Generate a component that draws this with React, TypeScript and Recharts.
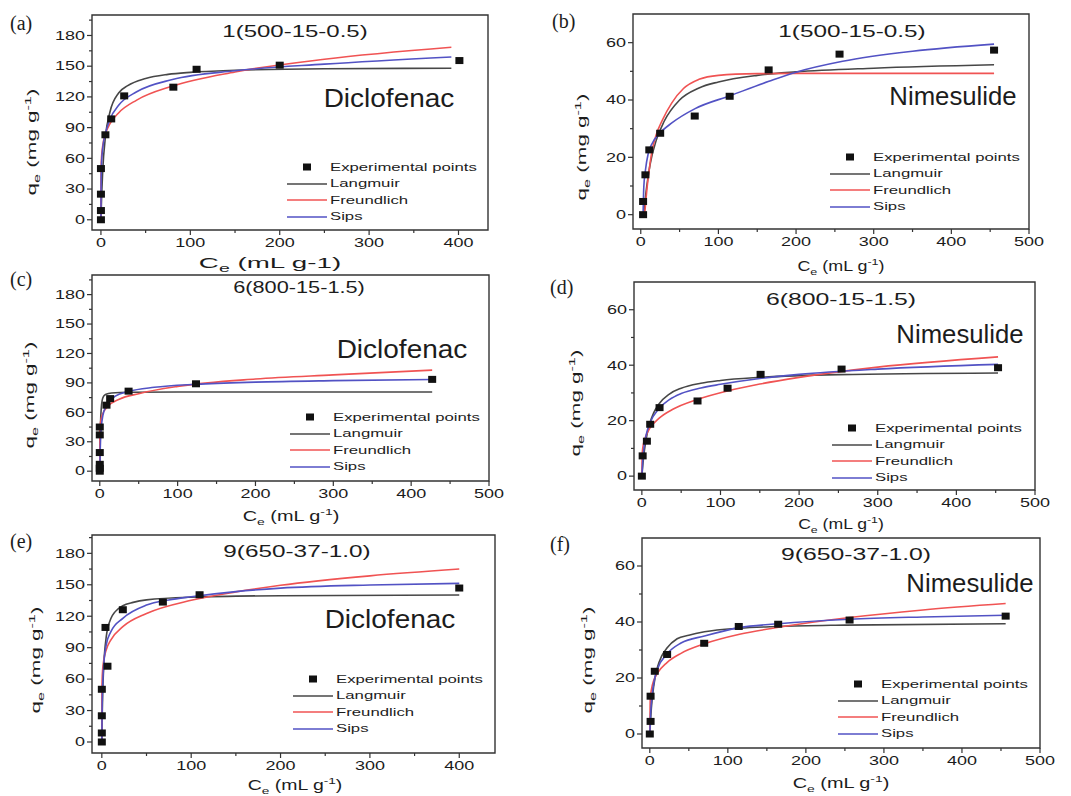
import React from "react";
import {
  ComposedChart,
  Line,
  Scatter,
  XAxis,
  YAxis,
  ReferenceArea,
  Legend,
} from "recharts";

type Pt = [number, number];

// (a) Diclofenac — 1(500-15-0.5)
const A_EXP: Pt[] = [[0, 0], [0, 9], [0, 25], [0, 50], [5, 83], [11.5, 98.5], [26, 121], [81, 129.5], [107, 147], [200, 151], [401, 155.5]];
const A_LANG: Pt[] = [[0, 0], [0.5, 15], [1, 28], [2, 48], [5, 81], [10, 105], [20, 124], [30, 131], [50, 138], [75, 142], [100, 144], [150, 146], [250, 147.5], [392, 148]];
const A_FREU: Pt[] = [[0, 0], [0.05, 40], [0.2, 50], [0.5, 58], [1, 64.8], [2, 72.4], [5, 83.9], [10, 93.6], [20, 104.6], [40, 116.9], [80, 130.6], [150, 144.4], [250, 156.8], [392, 168.5]];
const A_SIPS: Pt[] = [[0, 0], [0.2, 35], [0.5, 50], [1, 60], [2, 70], [5, 84], [10, 98], [20, 112], [40, 125], [80, 137], [150, 145.5], [250, 152], [392, 159]];

// (b) Nimesulide — 1(500-15-0.5)
const B_EXP: Pt[] = [[3, 0], [3, 4.6], [6, 13.9], [11, 22.6], [25, 28.4], [69.5, 34.4], [114.5, 41.3], [164.7, 50.5], [256, 56], [455, 57.4]];
const B_LANG: Pt[] = [[4, 0], [6, 6], [8, 10.5], [12, 17.5], [20, 26], [30, 32.5], [50, 40], [75, 44.2], [100, 46.3], [150, 48.6], [200, 49.8], [300, 51.1], [455, 52.3]];
const B_FREU: Pt[] = [[5, 0], [8.2, 9.6], [11, 16], [13.8, 21.2], [20, 28], [27.5, 32.8], [40, 39], [55, 44], [75, 47.2], [100, 48.6], [150, 49.2], [200, 49.3], [455, 49.3]];
const B_SIPS: Pt[] = [[3, 0], [3.9, 9.6], [6, 15.5], [9.5, 21.2], [15, 25], [24.5, 28.4], [40, 32], [70, 37], [115, 41.5], [165, 46.5], [200, 49.7], [260, 53.5], [350, 57], [455, 59.5]];

// (c) Diclofenac — 6(800-15-1.5)
const C_EXP: Pt[] = [[0, 0], [0, 3], [0, 7], [0, 19], [0, 37], [0, 45], [8.6, 67.3], [13.3, 74], [37, 81.6], [123.6, 89.1], [427, 93.6]];
const C_LANG: Pt[] = [[0, 0], [0.5, 30], [1, 50], [2, 65], [3, 72], [5, 76.5], [8, 78.5], [15, 79.7], [40, 80.4], [100, 80.7], [427, 80.8]];
const C_FREU: Pt[] = [[0, 0], [0.05, 35], [0.3, 43.5], [1, 50], [3, 57], [10, 65.7], [25, 73.3], [50, 79], [100, 86.4], [200, 94], [300, 98.2], [427, 103]];
const C_SIPS: Pt[] = [[0, 0], [0.5, 20], [1, 32], [2, 45], [4, 57], [8, 66], [13, 72], [20, 76.5], [37, 81.3], [70, 85.5], [124, 88.6], [200, 90.8], [300, 92.3], [427, 93.5]];

// (d) Nimesulide — 6(800-15-1.5)
const D_EXP: Pt[] = [[0, 0], [1, 7.3], [6.4, 12.6], [10.6, 18.7], [22.5, 24.7], [70.8, 27.1], [109, 31.7], [151, 36.7], [254, 38.6], [453, 39.1]];
const D_LANG: Pt[] = [[0, 0], [2, 6.3], [5, 12.7], [10, 19], [15, 22.8], [22, 26.1], [35, 29.6], [50, 31.7], [75, 33.5], [100, 34.5], [150, 35.6], [250, 36.6], [453, 37.2]];
const D_FREU: Pt[] = [[0, 0], [0.5, 8.3], [1, 9.8], [2, 11.6], [5, 14.4], [10, 17.2], [22, 20.9], [40, 24.2], [70, 27.6], [110, 30.8], [150, 33.2], [200, 35.6], [300, 39.3], [453, 43]];
const D_SIPS: Pt[] = [[0, 0], [1, 5], [3, 11], [6, 15.5], [10, 19], [22, 24.4], [35, 27.6], [50, 29.8], [75, 31.8], [100, 33.1], [150, 35.2], [200, 36.7], [300, 38.6], [453, 40.3]];

// (e) Diclofenac — 9(650-37-1.0)
const E_EXP: Pt[] = [[0, 0], [0, 8.6], [0, 25], [0, 50.3], [6.3, 72.3], [4.1, 109.3], [23.5, 126.2], [68.3, 133.5], [109.4, 140.5], [400, 146.9]];
const E_LANG: Pt[] = [[0, 0], [0.5, 28], [1, 47], [2, 70.5], [3, 84.6], [5, 100.7], [10, 117.5], [15, 124.4], [23.5, 130], [35, 133.2], [50, 135.6], [100, 138.2], [200, 139.6], [400, 140.3]];
const E_FREU: Pt[] = [[0, 0], [0.05, 45.5], [0.3, 58.5], [1, 70], [2, 77.2], [5, 88.1], [10, 97.3], [23.5, 110], [50, 122.6], [100, 135.2], [150, 143.2], [200, 149.5], [300, 158.5], [400, 165]];
const E_SIPS: Pt[] = [[0, 0], [0.3, 30], [1, 55], [2, 72], [5, 93], [10, 105], [23.5, 118], [50, 130.6], [75, 135.5], [100, 138.6], [150, 143.5], [200, 146.8], [300, 149.8], [400, 151.3]];

// (f) Nimesulide — 9(650-37-1.0)
const F_EXP: Pt[] = [[0, 0], [1, 4.5], [1, 13.5], [6.4, 22.4], [22.2, 28.4], [69.7, 32.4], [114, 38.4], [164.5, 39.2], [256, 40.7], [456, 42.1]];
const F_LANG: Pt[] = [[0, 0], [2, 9.2], [5, 17.1], [10, 24], [15, 27.7], [22, 30.7], [35, 34], [50, 35.3], [70, 36.5], [115, 37.8], [165, 38.4], [250, 38.9], [456, 39.4]];
const F_FREU: Pt[] = [[0, 0], [0.5, 12], [1, 13.8], [2, 15.8], [5, 19.1], [10, 21.8], [22, 25.5], [40, 28.8], [70, 32.2], [115, 35.6], [165, 38.1], [256, 41.6], [350, 44.3], [456, 46.6]];
const F_SIPS: Pt[] = [[0, 0], [1, 7], [3, 14], [6, 19.5], [10, 23.3], [22, 28.6], [40, 32.5], [70, 35], [115, 38], [165, 39.4], [256, 41], [350, 41.8], [456, 42.4]];

const DIC_Y_TICKS = [0, 15, 30, 45, 60, 75, 90, 105, 120, 135, 150, 165, 180, 195];
const NIM_Y_TICKS = [0, 10, 20, 30, 40, 50, 60];
const X_TICKS_400 = [0, 50, 100, 150, 200, 250, 300, 350, 400];
const X_TICKS_500 = [0, 50, 100, 150, 200, 250, 300, 350, 400, 450, 500];

const EXP_NAME = "Experimental points";
const FIT_NAMES = ["Langmuir", "Freundlich", "Sips"];
const FIT_COLORS = ["#474747", "#f05353", "#5252c4"];

const FONT = "'Liberation Sans', Arial, sans-serif";
const INK = "#1c1c1c";

interface Panel {
  tag: string;
  title: string;
  drug: string;
  exp: Pt[];
  fits: Pt[][];
  xDomain: [number, number];
  yDomain: [number, number];
  xTicks: number[];
  yTicks: number[];
  yMajor: number;
  box: { l: number; t: number; w: number; h: number };
  letter: [number, number];
  titlePos: [number, number, number];
  drugPos: [number, number];
  legendPos: [number, number];
  xLab: { cx: number; y: number; sx: number; fs: number; plain?: boolean };
  yLab: [number, number];
}

const PANELS: Panel[] = [
  {
    tag: "(a)", title: "1(500-15-0.5)", drug: "Diclofenac",
    exp: A_EXP, fits: [A_LANG, A_FREU, A_SIPS],
    xDomain: [-10, 433], yDomain: [-10, 200], xTicks: X_TICKS_400, yTicks: DIC_Y_TICKS, yMajor: 30,
    box: { l: 92, t: 15, w: 396, h: 215 },
    letter: [10, 30], titlePos: [295, 37, 1.5], drugPos: [389, 107], legendPos: [287, 167],
    xLab: { cx: 270, y: 268, sx: 1.85, fs: 15, plain: true }, yLab: [36, 142],
  },
  {
    tag: "(b)", title: "1(500-15-0.5)", drug: "Nimesulide",
    exp: B_EXP, fits: [B_LANG, B_FREU, B_SIPS],
    xDomain: [-10, 500], yDomain: [-5, 70], xTicks: X_TICKS_500, yTicks: NIM_Y_TICKS, yMajor: 20,
    box: { l: 633, t: 14, w: 396, h: 215 },
    letter: [552, 28], titlePos: [852, 37, 1.52], drugPos: [953, 105], legendPos: [830, 157],
    xLab: { cx: 841, y: 271, sx: 1.28, fs: 14 }, yLab: [586, 147],
  },
  {
    tag: "(c)", title: "6(800-15-1.5)", drug: "Diclofenac",
    exp: C_EXP, fits: [C_LANG, C_FREU, C_SIPS],
    xDomain: [-10, 500], yDomain: [-10, 200], xTicks: X_TICKS_500, yTicks: DIC_Y_TICKS, yMajor: 30,
    box: { l: 92, t: 275, w: 397, h: 206 },
    letter: [10, 286], titlePos: [299, 293, 1.36], drugPos: [402, 358], legendPos: [290, 417],
    xLab: { cx: 291, y: 521, sx: 1.42, fs: 14 }, yLab: [34, 395],
  },
  {
    tag: "(d)", title: "6(800-15-1.5)", drug: "Nimesulide",
    exp: D_EXP, fits: [D_LANG, D_FREU, D_SIPS],
    xDomain: [-10, 500], yDomain: [-5, 70], xTicks: X_TICKS_500, yTicks: NIM_Y_TICKS, yMajor: 20,
    box: { l: 634, t: 282, w: 401, h: 208 },
    letter: [550, 294], titlePos: [841, 305, 1.55], drugPos: [960, 343], legendPos: [832, 428],
    xLab: { cx: 841, y: 529, sx: 1.26, fs: 14 }, yLab: [580, 403],
  },
  {
    tag: "(e)", title: "9(650-37-1.0)", drug: "Diclofenac",
    exp: E_EXP, fits: [E_LANG, E_FREU, E_SIPS],
    xDomain: [-11, 440], yDomain: [-10.5, 197.5], xTicks: X_TICKS_400, yTicks: DIC_Y_TICKS, yMajor: 30,
    box: { l: 92, t: 535, w: 403, h: 218 },
    letter: [10, 548], titlePos: [297, 557, 1.52], drugPos: [390, 628], legendPos: [293, 679],
    xLab: { cx: 295, y: 790, sx: 1.39, fs: 14 }, yLab: [40, 660],
  },
  {
    tag: "(f)", title: "9(650-37-1.0)", drug: "Nimesulide",
    exp: F_EXP, fits: [F_LANG, F_FREU, F_SIPS],
    xDomain: [-10, 500], yDomain: [-5, 70], xTicks: X_TICKS_500, yTicks: NIM_Y_TICKS, yMajor: 20,
    box: { l: 642, t: 538, w: 398, h: 210 },
    letter: [550, 551], titlePos: [856, 560, 1.55], drugPos: [970, 592], legendPos: [838, 684],
    xLab: { cx: 841, y: 788, sx: 1.42, fs: 14 }, yLab: [592, 660],
  },
];

const PAD_L = 60;
const PAD_T = 10;
const PAD_R = 24;
const PAD_B = 40;

const toRows = (pts: Pt[]) => pts.map(([x, y]) => ({ x, y }));

// eslint-disable-next-line @typescript-eslint/no-explicit-any
function XTick(props: any) {
  const { x, y, payload } = props;
  const v = payload.value as number;
  const major = v % 100 === 0;
  return (
    <g>
      <line x1={x} x2={x} y1={y} y2={y + (major ? 5 : 3)} stroke="#333" strokeWidth={1.2} />
      {major && (
        <text
          transform={`translate(${x},${y + 17}) scale(1.5,1)`}
          textAnchor="middle"
          fontSize={12}
          fontFamily={FONT}
          fill={INK}
        >
          {v}
        </text>
      )}
    </g>
  );
}

// eslint-disable-next-line @typescript-eslint/no-explicit-any
function YTick(props: any) {
  const { x, y, payload, major } = props;
  const v = payload.value as number;
  const isMajor = v % major === 0;
  return (
    <g>
      <line x1={x - (isMajor ? 5 : 3)} x2={x} y1={y} y2={y} stroke="#333" strokeWidth={1.2} />
      {isMajor && (
        <text
          transform={`translate(${x - 7},${y + 4.3}) scale(1.5,1)`}
          textAnchor="end"
          fontSize={12}
          fontFamily={FONT}
          fill={INK}
        >
          {v}
        </text>
      )}
    </g>
  );
}

// eslint-disable-next-line @typescript-eslint/no-explicit-any
const Square = (props: any) => (
  <rect x={props.cx - 4} y={props.cy - 3.5} width={8} height={7} fill="#111" />
);

function FitLegend() {
  const rows = [EXP_NAME, ...FIT_NAMES];
  return (
    <div style={{ fontFamily: FONT, fontSize: 11, color: INK }}>
      {rows.map((name, i) => (
        <div key={name} style={{ display: "flex", alignItems: "center", height: 16.5 }}>
          <svg width={40} height={10} style={{ display: "block" }}>
            {i === 0 ? (
              <rect x={16} y={1.5} width={8} height={7} fill="#111" />
            ) : (
              <line x1={0} x2={40} y1={5} y2={5} stroke={FIT_COLORS[i - 1]} strokeWidth={1.6} />
            )}
          </svg>
          <span
            style={{
              marginLeft: 3,
              display: "inline-block",
              transform: "scaleX(1.52)",
              transformOrigin: "left center",
              whiteSpace: "nowrap",
              lineHeight: "16.5px",
            }}
          >
            {name}
          </span>
        </div>
      ))}
    </div>
  );
}

function PanelChart({ p }: { p: Panel }) {
  const { l, t, w, h } = p.box;
  const left = l - PAD_L;
  const top = t - PAD_T;
  return (
    <div style={{ position: "absolute", left, top }}>
      <ComposedChart
        width={w + PAD_L + PAD_R}
        height={h + PAD_T + PAD_B}
        margin={{ top: PAD_T, right: PAD_R, bottom: 0, left: 0 }}
      >
        <XAxis
          type="number"
          dataKey="x"
          domain={p.xDomain}
          ticks={p.xTicks}
          interval={0}
          allowDataOverflow
          axisLine={false}
          tickLine={false}
          tickSize={0}
          tickMargin={0}
          height={PAD_B}
          tick={(props) => <XTick {...props} />}
        />
        <YAxis
          type="number"
          dataKey="y"
          domain={p.yDomain}
          ticks={p.yTicks}
          interval={0}
          allowDataOverflow
          axisLine={false}
          tickLine={false}
          tickSize={0}
          tickMargin={0}
          width={PAD_L}
          tick={(props) => <YTick {...props} major={p.yMajor} />}
        />
        <ReferenceArea
          x1={p.xDomain[0]}
          x2={p.xDomain[1]}
          y1={p.yDomain[0]}
          y2={p.yDomain[1]}
          fill="none"
          stroke="#333"
          strokeWidth={1.4}
          ifOverflow="visible"
        />
        {p.fits.map((pts, i) => (
          <Line
            key={FIT_NAMES[i]}
            name={FIT_NAMES[i]}
            data={toRows(pts)}
            dataKey="y"
            type="monotone"
            stroke={FIT_COLORS[i]}
            strokeWidth={1.6}
            dot={false}
            isAnimationActive={false}
          />
        ))}
        <Scatter
          name={EXP_NAME}
          data={toRows(p.exp)}
          shape={Square}
          legendType="square"
          isAnimationActive={false}
        />
        <Legend
          layout="horizontal"
          verticalAlign="middle"
          align="center"
          wrapperStyle={{
            left: p.legendPos[0] - left,
            top: p.legendPos[1] - 8.25 - top,
            width: 200,
            height: 66,
          }}
          content={() => <FitLegend />}
        />
      </ComposedChart>
    </div>
  );
}

function Labels({ p }: { p: Panel }) {
  const { xLab } = p;
  const sub = xLab.fs * 0.7;
  return (
    <g fontFamily={FONT} fill={INK}>
      <text x={p.letter[0]} y={p.letter[1]} fontFamily="'Liberation Serif', 'Times New Roman', serif" fontSize={20}>
        {p.tag}
      </text>
      <text
        transform={`translate(${p.titlePos[0]},${p.titlePos[1]}) scale(${p.titlePos[2]},1)`}
        textAnchor="middle"
        fontSize={16}
      >
        {p.title}
      </text>
      <text
        transform={`translate(${p.drugPos[0]},${p.drugPos[1]}) scale(${p.drug === "Diclofenac" ? 1.12 : 1.03},1)`}
        textAnchor="middle"
        fontSize={25}
      >
        {p.drug}
      </text>
      <text
        transform={`translate(${xLab.cx},${xLab.y}) scale(${xLab.sx},1)`}
        textAnchor="middle"
        fontSize={xLab.fs}
      >
        C
        <tspan fontSize={sub} dy={4}>e</tspan>
        <tspan dy={-4}>{xLab.plain ? " (mL g-1)" : " (mL g"}</tspan>
        {!xLab.plain && (
          <>
            <tspan fontSize={sub} dy={-6}>-1</tspan>
            <tspan dy={6}>)</tspan>
          </>
        )}
      </text>
      <text
        transform={`translate(${p.yLab[0]},${p.yLab[1]}) scale(1,1.72) rotate(-90)`}
        textAnchor="middle"
        fontSize={13}
      >
        q
        <tspan fontSize={9.5} dy={3.5}>e</tspan>
        <tspan dy={-3.5}> (mg g</tspan>
        <tspan fontSize={9.5} dy={-5.5}>-1</tspan>
        <tspan dy={5.5}>)</tspan>
      </text>
    </g>
  );
}

export default function App() {
  return (
    <div
      style={{
        position: "absolute",
        left: 0,
        top: 0,
        width: 1071,
        height: 796,
        background: "#fff",
        overflow: "hidden",
      }}
    >
      {PANELS.map((p) => (
        <PanelChart key={p.tag} p={p} />
      ))}
      <svg
        width={1071}
        height={796}
        style={{ position: "absolute", left: 0, top: 0, pointerEvents: "none" }}
      >
        {PANELS.map((p) => (
          <Labels key={p.tag} p={p} />
        ))}
      </svg>
    </div>
  );
}
